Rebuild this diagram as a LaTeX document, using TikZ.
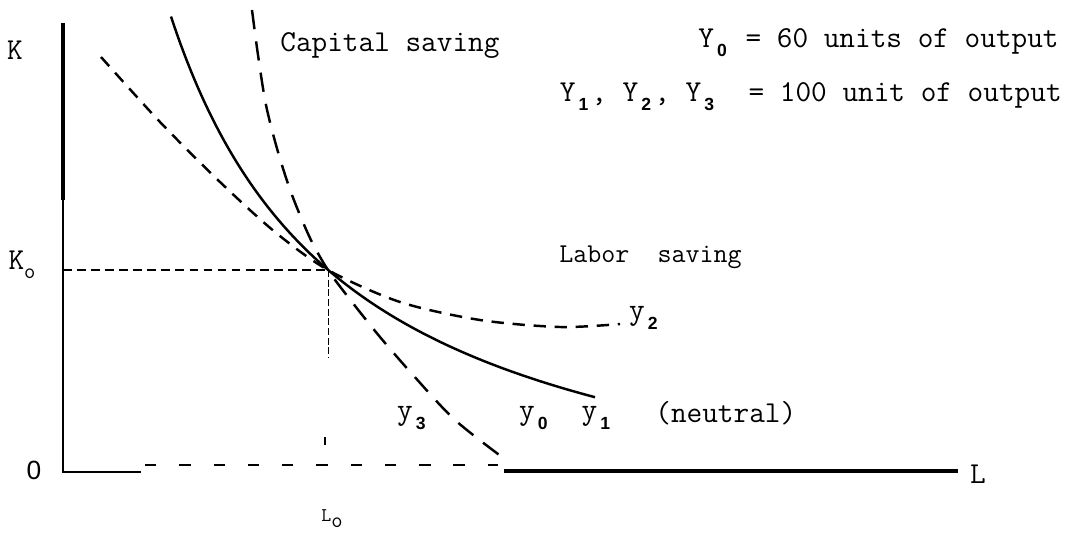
\documentclass[tikz,border=0pt]{standalone}
\usepackage{fontspec}
\newfontfamily\axisfont{Liberation Sans}
\usetikzlibrary{positioning}
\tikzstyle{txt}=[inner sep=0pt, font=\fontsize{17.3}{20}\selectfont\ttfamily]
\tikzstyle{ax}=[txt, font=\fontsize{15}{18}\selectfont\axisfont]
\tikzstyle{curve}=[line width=1.4pt]
\tikzstyle{dcurve}=[curve, dash pattern=on 7pt off 5pt]
\tikzstyle{lcurve}=[curve, dash pattern=on 11pt off 7pt]
\tikzstyle{guide}=[line width=0.8pt, dash pattern=on 5pt off 3pt]
\newcommand{\lowsub}[1]{\raisebox{-0.7ex}{\makebox[0.525em]{\fontsize{10}{10}\selectfont\axisfont\bfseries #1}}}
\newcommand{\lowo}{\raisebox{-0.7ex}{\fontsize{12.5}{12}\selectfont o}}

\begin{document}
\begin{tikzpicture}[x=0.02cm, y=-0.02cm]
    \useasboundingbox (0,0) rectangle (1071,538);
    % axes
    \coordinate (top) at (63,23);
    \coordinate (mid) at (63,200);
    \coordinate (orig) at (63,472);
    \coordinate (d0) at (145,465);
    \coordinate (d1) at (498,465);
    \coordinate (h0) at (504,471);
    \coordinate (h1) at (958,471);
    \draw[line width=1.9pt] (top)--(mid);
    \draw[line width=0.8pt] (mid)--(orig)--(141,472);
    \draw[line width=0.9pt, dash pattern=on 6.5pt off 13pt] (d0)--(d1);
    \draw[line width=1.9pt] (h0)--(h1);
    % common point
    \coordinate (p) at (328,270);
    \coordinate (ka) at (63,270);
    \coordinate (pd) at (328,357);
    \draw[guide] (ka)--(p);
    \draw[line width=0.5pt, dash pattern=on 4pt off 1.5pt] (p)--(pd);
    \draw[line width=0.6pt] (325,437)--(325,445);
    % isoquants
    \draw[curve] plot[domain=171:595, samples=80, smooth] (\x, {557-962/((\x+7)/100)});
    \draw[lcurve] plot[smooth] coordinates {(252,10) (258,55) (266,105) (278,152)
        (292,195) (310,238) (p) (352,302) (380,337) (413,375) (455,420) (506,460)};
    \draw[dcurve] plot[smooth] coordinates {(101,57) (160,122) (220,182) (275,232)
        (p) (400,302) (480,320) (560,327) (620,324)};
    % labels
    \node[txt] (kax) at (15,50) {K};
    \node[txt] (kzero) at (22,265) {K\lowo};
    \node[ax] (zero) at (34,470) {0};
    \node[txt] (lax) at (978,474) {L};
    \node[txt] (lzero) at (332,519) {\fontsize{11}{11}\selectfont L\lowo};
    \node[txt, anchor=west] (cap) at (280,46) {Capital saving};
    \node[txt, anchor=west] (leg0) at (698,43) {Y\lowsub{0} = 60 units of output};
    \node[txt, anchor=east] (leg1) at (1062,97) {Y\lowsub{1}, Y\lowsub{2}, Y\lowsub{3}\ \ = 100 unit of output};
    \node[txt, anchor=west, font=\fontsize{15.5}{18}\selectfont\ttfamily] (lab) at (559,257) {Labor\ \ saving};
    \node[txt] (ytwo) at (645,318) {y\lowsub{2}};
    \node[txt] (ythree) at (413,418) {y\lowsub{3}};
    \node[txt] (yzero) at (535,418) {y\lowsub{0}};
    \node[txt, right=0.6cm of yzero] (yone) {y\lowsub{1}};
    \node[txt, anchor=west] (neut) at (655,413) {(neutral)};
\end{tikzpicture}
\end{document}
